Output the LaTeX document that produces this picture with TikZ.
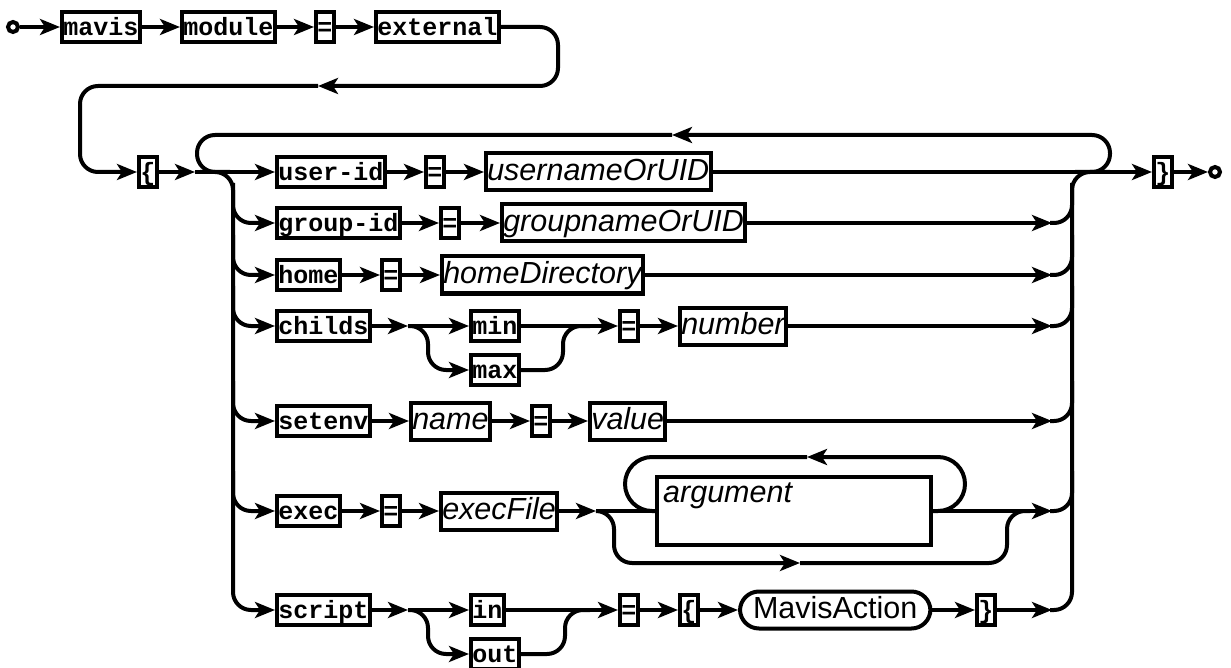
\documentclass[tikz,border=0pt]{standalone}
\usepackage{fontspec}
\setmonofont{Liberation Mono}
\newfontfamily\nsans{Liberation Sans}
\usetikzlibrary{arrows.meta}
\tikzset{
  ln/.style={line width=4pt},
  arr/.style={ln,-{Stealth[length=20pt,width=16pt,inset=5pt]}},
  term/.style={draw,line width=4pt,anchor=west,inner xsep=1.25pt,inner ysep=0pt,
    minimum height=30pt,text height=17pt,text depth=0pt,
    font=\ttfamily\bfseries\fontsize{25}{25}\selectfont},
  nonterm/.style={draw,line width=4pt,anchor=west,inner xsep=1.25pt,inner ysep=0pt,
    minimum height=37pt,text height=22pt,text depth=5pt,
    font=\nsans\itshape\fontsize{30.5}{30.5}\selectfont},
  action/.style={draw,line width=4pt,anchor=west,inner xsep=13pt,inner ysep=0pt,
    rounded corners=19pt,minimum height=37pt,text height=22pt,text depth=5pt,
    font=\nsans\fontsize{30.5}{30.5}\selectfont},
  endpt/.style={circle,draw,line width=4pt,fill=white,minimum size=10pt,inner sep=0pt},
}
\begin{document}
\begin{tikzpicture}[x=1pt,y=-1pt]
\useasboundingbox (0,0) rectangle (1231,668);
% ---- row 0
\node[endpt] (start) at (13,27) {};
\node[term] (mavis) at (60,27) {mavis};
\node[term] (module) at (180,27) {module};
\node[term] (eq0) at (314,27) {=};
\node[term] (external) at (374,27) {external};
\draw[arr] (start) -- (mavis);
\draw[arr] (mavis) -- (module);
\draw[arr] (module) -- (eq0);
\draw[arr] (eq0) -- (external);
\coordinate (ret) at (318,86);
\draw[arr,rounded corners=18pt] (external.east) -- (558,27) -- (558,86) -- (ret);
% ---- row 1
\node[term] (lb) at (137,172) {\{};
\draw[arr,rounded corners=18pt] (ret) -- (80,86) -- (80,172) -- (lb.west);
\coordinate (j1) at (195,172);
\draw[arr] (lb.east) -- (j1);
\node[term] (userid) at (275,172) {user-id};
\node[term] (eq1) at (424,172) {=};
\node[nonterm] (user) at (484,172) {usernameOrUID};
\node[term] (rb) at (1152,172) {\}};
\node[endpt] (stop) at (1215,172) {};
\draw[arr] (j1) -- (userid);
\draw[arr] (userid) -- (eq1);
\draw[arr] (eq1) -- (user);
\draw[arr] (user.east) -- (rb.west);
\draw[arr] (rb) -- (stop);
% loop over the whole choice
\coordinate (loopArr) at (672,135);
\draw[arr,rounded corners=18pt] (1075,172) -- (1110,172) -- (1110,135) -- (loopArr);
\draw[ln,rounded corners=18pt] (loopArr) -- (197,135) -- (197,172) -- (230,172);
% ---- other rows
\node[term] (groupid) at (275,223) {group-id};
\node[term] (eq2) at (439,223) {=};
\node[nonterm] (group) at (500,223) {groupnameOrUID};
\node[term] (home) at (275,275) {home};
\node[term] (eq3) at (380,275) {=};
\node[nonterm] (homedir) at (440,275) {homeDirectory};
\node[term] (childs) at (275,326) {childs};
\node[term] (min) at (469,326) {min};
\node[term] (max) at (469,370) {max};
\node[term] (eq4) at (618,326) {=};
\node[nonterm] (number) at (678,326) {number};
\node[term] (setenv) at (275,421) {setenv};
\node[nonterm] (name) at (409,421) {name};
\node[term] (eq5) at (530,421) {=};
\node[nonterm] (value) at (588,421) {value};
\node[term] (exec) at (275,511) {exec};
\node[term] (eq6) at (380,511) {=};
\node[nonterm] (execfile) at (439,511) {execFile};
\node[draw,line width=4pt,minimum width=274pt,minimum height=68pt,inner sep=0pt] (arg) at (794,511) {};
\node[anchor=base west,inner sep=0pt,font=\nsans\itshape\fontsize{30.5}{30.5}\selectfont] (argtext) at (663,502) {argument};
\node[term] (script) at (275,610) {script};
\node[term] (in) at (469,610) {in};
\node[term] (out) at (469,654) {out};
\node[term] (eq7) at (618,610) {=};
\node[term] (lb2) at (678,610) {\{};
\node[action] (act) at (738,610) {MavisAction};
\node[term] (rb2) at (975,610) {\}};
% left rail
\draw[arr,rounded corners=18pt] (200,172) -- (233,172) -- (233,610) -- (script.west);
\foreach \n/\y in {groupid/223,home/275,childs/326,setenv/421,exec/511}
  \draw[arr,rounded corners=18pt] (233,\y-40) -- (233,\y) -- (\n.west);
% right rail
\draw[ln,rounded corners=18pt] (1050,610) -- (1072,610) -- (1072,172) -- (1110,172);
\foreach \y in {223,275,326,421,511}
  \draw[ln,rounded corners=18pt] (1050,\y) -- (1072,\y) -- (1072,\y-40);
% row 2
\coordinate (e2) at (1052,223);
\draw[arr] (groupid) -- (eq2);
\draw[arr] (eq2) -- (group);
\draw[arr] (group.east) -- (e2);
% row 3
\coordinate (e3) at (1052,275);
\draw[arr] (home) -- (eq3);
\draw[arr] (eq3) -- (homedir);
\draw[arr] (homedir.east) -- (e3);
% row 4
\coordinate (cs) at (408,326);
\coordinate (e4) at (1052,326);
\draw[arr] (childs) -- (cs);
\draw[arr] (cs) -- (min.west);
\draw[arr,rounded corners=18pt] (cs) -- (428,326) -- (428,370) -- (max.west);
\draw[arr] (min.east) -- (eq4.west);
\draw[ln,rounded corners=18pt] (max.east) -- (563,370) -- (563,326) -- (590,326);
\draw[arr] (eq4) -- (number);
\draw[arr] (number.east) -- (e4);
% row 5
\coordinate (e5) at (1052,421);
\draw[arr] (setenv) -- (name);
\draw[arr] (name) -- (eq5);
\draw[arr] (eq5) -- (value);
\draw[arr] (value.east) -- (e5);
% row 6
\coordinate (es) at (596,511);
\coordinate (e6) at (1052,511);
\coordinate (argArr) at (807,457);
\coordinate (skipArr) at (800,563);
\draw[arr] (exec) -- (eq6);
\draw[arr] (eq6) -- (execfile);
\draw[arr] (execfile.east) -- (es);
\draw[ln] (es) -- (arg.west);
\draw[arr,rounded corners=27pt] (arg.east) -- (965,511) -- (965,457) -- (argArr);
\draw[ln,rounded corners=27pt] (argArr) -- (625,457) -- (625,511) -- (arg.west);
\draw[arr,rounded corners=18pt] (es) -- (614,511) -- (614,563) -- (skipArr);
\draw[ln,rounded corners=18pt] (skipArr) -- (1007,563) -- (1007,511) -- (1030,511);
\draw[arr] (arg.east) -- (e6);
% row 7
\coordinate (ss) at (408,610);
\coordinate (e7) at (1052,610);
\draw[arr] (script) -- (ss);
\draw[arr] (ss) -- (in.west);
\draw[arr,rounded corners=18pt] (ss) -- (428,610) -- (428,654) -- (out.west);
\draw[arr] (in.east) -- (eq7.west);
\draw[ln,rounded corners=18pt] (out.east) -- (565,654) -- (565,610) -- (590,610);
\draw[arr] (eq7) -- (lb2);
\draw[arr] (lb2) -- (act);
\draw[arr] (act) -- (rb2);
\draw[arr] (rb2.east) -- (e7);
\end{tikzpicture}
\end{document}
